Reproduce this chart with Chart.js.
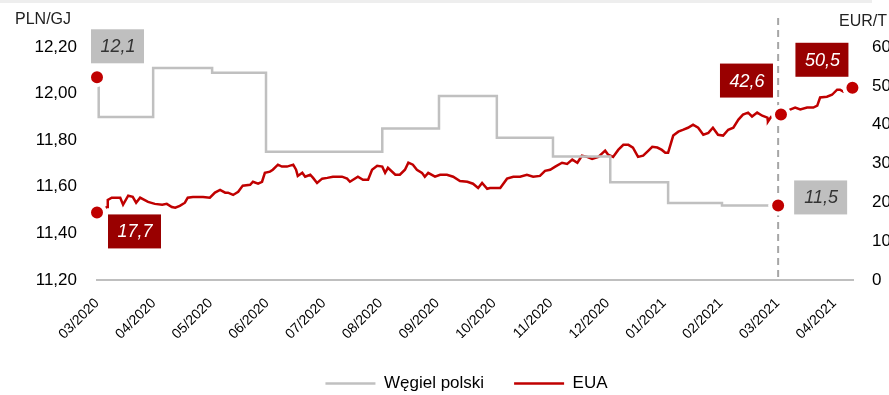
<!DOCTYPE html>
<html>
<head>
<meta charset="utf-8">
<script src="https://cdn.jsdelivr.net/npm/chart.js@4.4.0/dist/chart.umd.min.js"></script>
<style>
  html, body { margin: 0; padding: 0; background: #fff; }
  #wrap { position: relative; width: 889px; height: 395px; }
  #topband { position: absolute; left: 0; top: 0; width: 872px; height: 3px; background: #eeeeee; }
</style>
</head>
<body>
<div id="wrap">
  <canvas id="chart" width="889" height="395"></canvas>
  <div id="topband"></div>
</div>
<script>
// month labels on the x axis (one tick per month, x values are months since 03/2020)
const monthLabels = ["03/2020", "04/2020", "05/2020", "06/2020", "07/2020", "08/2020", "09/2020",
  "10/2020", "11/2020", "12/2020", "01/2021", "02/2021", "03/2021", "04/2021"];
const xMax = 13.33;
const marchLine = 12.01;

const leftTicks = [11.2, 11.4, 11.6, 11.8, 12.0, 12.2];
const rightTicks = [0, 10, 20, 30, 40, 50, 60];
const leftUnit = "PLN/GJ";
const rightUnit = "EUR/T";

// Węgiel polski (PLN/GJ), step series
const coalMonths = [0, 0.03, 0.99, 2.03, 2.98, 5.03, 6.03, 7.05, 8.04, 9.05, 10.07, 11.02, 12.01];
const coalValues = [12.07, 11.90, 12.11, 12.09, 11.75, 11.85, 11.99, 11.81, 11.73, 11.62, 11.53, 11.52, 11.52];
const coalMarks = [0, 12];

// EUA (EUR/t)
const euaMonths = [0, 0.18, 0.19, 0.26, 0.41, 0.46, 0.55, 0.63, 0.69, 0.76,
  0.90, 1.02, 1.15, 1.23, 1.32, 1.38, 1.46, 1.55, 1.60, 1.69,
  1.87, 1.99, 2.08, 2.17, 2.26, 2.31, 2.40, 2.49, 2.57, 2.70,
  2.75, 2.84, 2.91, 2.96, 3.05, 3.10, 3.19, 3.26, 3.35, 3.46,
  3.51, 3.54, 3.62, 3.67, 3.76, 3.81, 3.88, 3.97, 4.06, 4.16,
  4.32, 4.41, 4.46, 4.60, 4.69, 4.78, 4.85, 4.94, 5.03, 5.08,
  5.13, 5.26, 5.34, 5.43, 5.49, 5.57, 5.64, 5.73, 5.78, 5.84,
  5.96, 6.05, 6.17, 6.28, 6.40, 6.53, 6.63, 6.72, 6.79, 6.88,
  6.93, 7.11, 7.23, 7.34, 7.46, 7.58, 7.69, 7.81, 7.90, 7.99,
  8.08, 8.20, 8.29, 8.38, 8.47, 8.55, 8.64, 8.73, 8.84, 8.96,
  9.01, 9.10, 9.19, 9.28, 9.37, 9.45, 9.54, 9.63, 9.70, 9.79,
  9.88, 9.96, 10.02, 10.07, 10.16, 10.25, 10.34, 10.42, 10.51, 10.60,
  10.69, 10.78, 10.86, 10.95, 11.04, 11.13, 11.22, 11.31, 11.39, 11.48,
  11.55, 11.64, 11.73, 11.82, 11.83, 11.89, 12.06, 12.22, 12.31, 12.40,
  12.52, 12.63, 12.70, 12.75, 12.87, 12.96, 13.05, 13.10, 13.16, 13.32];
const euaValues = [17.4, 18.8, 20.6, 21.2, 21.2, 19.4, 21.7, 21.4, 19.9, 21.2,
  20.1, 19.6, 19.4, 19.6, 18.8, 18.6, 19.1, 19.9, 21.2, 21.4,
  21.4, 21.2, 22.5, 23.2, 22.5, 22.5, 21.9, 22.7, 24.3, 24.5,
  25.3, 24.8, 25.3, 27.6, 27.9, 28.4, 29.7, 29.2, 29.2, 29.7,
  28.4, 26.8, 27.6, 26.6, 27.1, 26.3, 25.0, 26.1, 26.3, 26.6,
  26.6, 26.1, 25.3, 26.6, 25.8, 25.8, 28.4, 29.4, 29.2, 27.6,
  28.9, 27.1, 27.1, 28.4, 30.2, 29.7, 28.4, 27.6, 26.6, 27.6,
  26.6, 27.1, 27.1, 26.6, 25.5, 25.3, 24.8, 23.7, 25.0, 23.5,
  23.7, 23.7, 26.1, 26.6, 26.6, 27.1, 26.6, 26.8, 28.1, 28.4,
  29.2, 30.2, 29.9, 31.0, 30.2, 32.0, 31.7, 31.2, 31.7, 33.3,
  32.3, 31.7, 33.5, 34.8, 34.8, 34.1, 31.7, 32.0, 33.0, 34.3,
  34.1, 33.5, 32.8, 32.8, 37.2, 38.2, 38.7, 39.2, 40.0, 39.2,
  37.4, 37.9, 39.2, 37.4, 37.2, 38.7, 39.2, 41.3, 42.6, 43.1,
  42.1, 43.1, 42.3, 41.8, 40.8, 42.1, 42.6, 43.9, 44.4, 43.9,
  44.4, 44.4, 44.9, 47.0, 47.2, 47.7, 49.0, 49.0, 48.5, 49.5];
const euaMarks = [0, 136, 149];

// callout boxes next to the marked points
const calloutTexts = ["12,1", "17,7", "42,6", "50,5", "11,5"];
const callouts = [
  { ds: 0, idx: 0, dx: 20, dy: -31, dark: false },
  { ds: 1, idx: 0, dx: 37, dy: 19, dark: true },
  { ds: 1, idx: 136, dx: -35, dy: -34, dark: true },
  { ds: 1, idx: 149, dx: -31, dy: -28, dark: true },
  { ds: 0, idx: 12, dx: 42, dy: -8, dark: false },
];

const FONT = '"Liberation Sans", Arial, sans-serif';
const RED = "#c00000";
const GREY = "#c0c0c0";

const toPoints = (xs, ys) => xs.map((x, i) => ({ x: x, y: ys[i] }));
const markRadius = (marks) => (ctx) => marks.includes(ctx.dataIndex) ? 8 : 0;

const extras = {
  id: "extras",
  afterLayout(chart) {
    // legend sits a bit right of centre and a bit lower in the original
    const lg = chart.legend;
    lg.left += 22; lg.right += 22;
    lg.top += 7; lg.bottom += 7;
  },
  beforeDatasetsDraw(chart) {
    const { ctx, chartArea, scales } = chart;
    const x = scales.x.getPixelForValue(marchLine);
    ctx.save();
    ctx.strokeStyle = "#a6a6a6";
    ctx.lineWidth = 2;
    ctx.setLineDash([7, 5]);
    ctx.beginPath();
    ctx.moveTo(x, 18);
    ctx.lineTo(x, chartArea.bottom);
    ctx.stroke();
    ctx.restore();
  },
  afterDatasetsDraw(chart) {
    const { ctx } = chart;
    ctx.save();
    callouts.forEach((c, i) => {
      const pt = chart.getDatasetMeta(c.ds).data[c.idx];
      const cx = pt.x + c.dx;
      const cy = pt.y + c.dy;
      ctx.fillStyle = c.dark ? "#990000" : "#bfbfbf";
      ctx.fillRect(cx - 26, cy - 17, 53, 34);
      ctx.fillStyle = c.dark ? "#ffffff" : "#333333";
      ctx.font = "italic 18px " + FONT;
      ctx.textAlign = "center";
      ctx.textBaseline = "middle";
      ctx.fillText(calloutTexts[i], cx + 1, cy + 1);
    });
    ctx.fillStyle = "#222222";
    ctx.font = "16px " + FONT;
    ctx.textAlign = "left";
    ctx.textBaseline = "middle";
    ctx.fillText(leftUnit, 15, 20);
    ctx.fillText(rightUnit, 839, 22);
    ctx.restore();
  }
};

new Chart(document.getElementById("chart"), {
  type: "line",
  data: {
    datasets: [
      {
        label: "Węgiel polski",
        data: toPoints(coalMonths, coalValues),
        yAxisID: "y",
        borderColor: GREY,
        backgroundColor: GREY,
        borderWidth: 2.5,
        stepped: "before",
        pointRadius: markRadius(coalMarks),
        pointHoverRadius: markRadius(coalMarks),
        pointBackgroundColor: RED,
        pointBorderColor: "#ffffff",
        pointBorderWidth: 4,
        clip: false,
      },
      {
        label: "EUA",
        data: toPoints(euaMonths, euaValues),
        yAxisID: "y1",
        borderColor: RED,
        backgroundColor: RED,
        borderWidth: 2.5,
        tension: 0,
        pointRadius: markRadius(euaMarks),
        pointHoverRadius: markRadius(euaMarks),
        pointBackgroundColor: RED,
        pointBorderColor: "#ffffff",
        pointBorderWidth: 4,
        clip: false,
      },
    ],
  },
  options: {
    responsive: false,
    animation: false,
    layout: { padding: { top: 47, left: 0, right: 0, bottom: 0 } },
    plugins: {
      tooltip: { enabled: false },
      legend: {
        position: "bottom",
        labels: {
          usePointStyle: true,
          pointStyle: "line",
          pointStyleWidth: 50,
          boxWidth: 50,
          padding: 30,
          color: "#000000",
          font: { family: FONT, size: 17 },
          generateLabels: (chart) =>
            Chart.defaults.plugins.legend.labels.generateLabels(chart).map((item) => {
              const ds = chart.data.datasets[item.datasetIndex];
              return { ...item, strokeStyle: ds.borderColor, fillStyle: ds.borderColor, lineWidth: 2.5, pointStyle: "line" };
            }),
        },
      },
    },
    scales: {
      x: {
        type: "linear",
        min: 0,
        max: xMax,
        grid: { display: false },
        border: { display: true, color: "#bfbfbf", width: 2 },
        afterBuildTicks: (s) => { s.ticks = monthLabels.map((_, i) => ({ value: i })); },
        afterFit: (s) => { s.height = 58; },
        ticks: {
          autoSkip: false,
          minRotation: 45,
          maxRotation: 45,
          padding: 7,
          color: "#000000",
          font: { family: FONT, size: 14 },
          callback: (v) => monthLabels[v] ?? "",
        },
      },
      y: {
        position: "left",
        min: 11.2,
        max: 12.2,
        grid: { display: false, drawTicks: false },
        border: { display: false },
        afterBuildTicks: (s) => { s.ticks = leftTicks.map((v) => ({ value: v })); },
        afterFit: (s) => { s.width = 97; },
        ticks: {
          padding: 20,
          color: "#000000",
          font: { family: FONT, size: 17 },
          callback: (v) => v.toFixed(2).replace(".", ","),
        },
      },
      y1: {
        position: "right",
        min: 0,
        max: 60,
        grid: { display: false, drawTicks: false },
        border: { display: false },
        afterBuildTicks: (s) => { s.ticks = rightTicks.map((v) => ({ value: v })); },
        afterFit: (s) => { s.width = 36; },
        ticks: {
          padding: 19,
          color: "#000000",
          font: { family: FONT, size: 17 },
        },
      },
    },
  },
  plugins: [extras],
});
</script>
</body>
</html>
